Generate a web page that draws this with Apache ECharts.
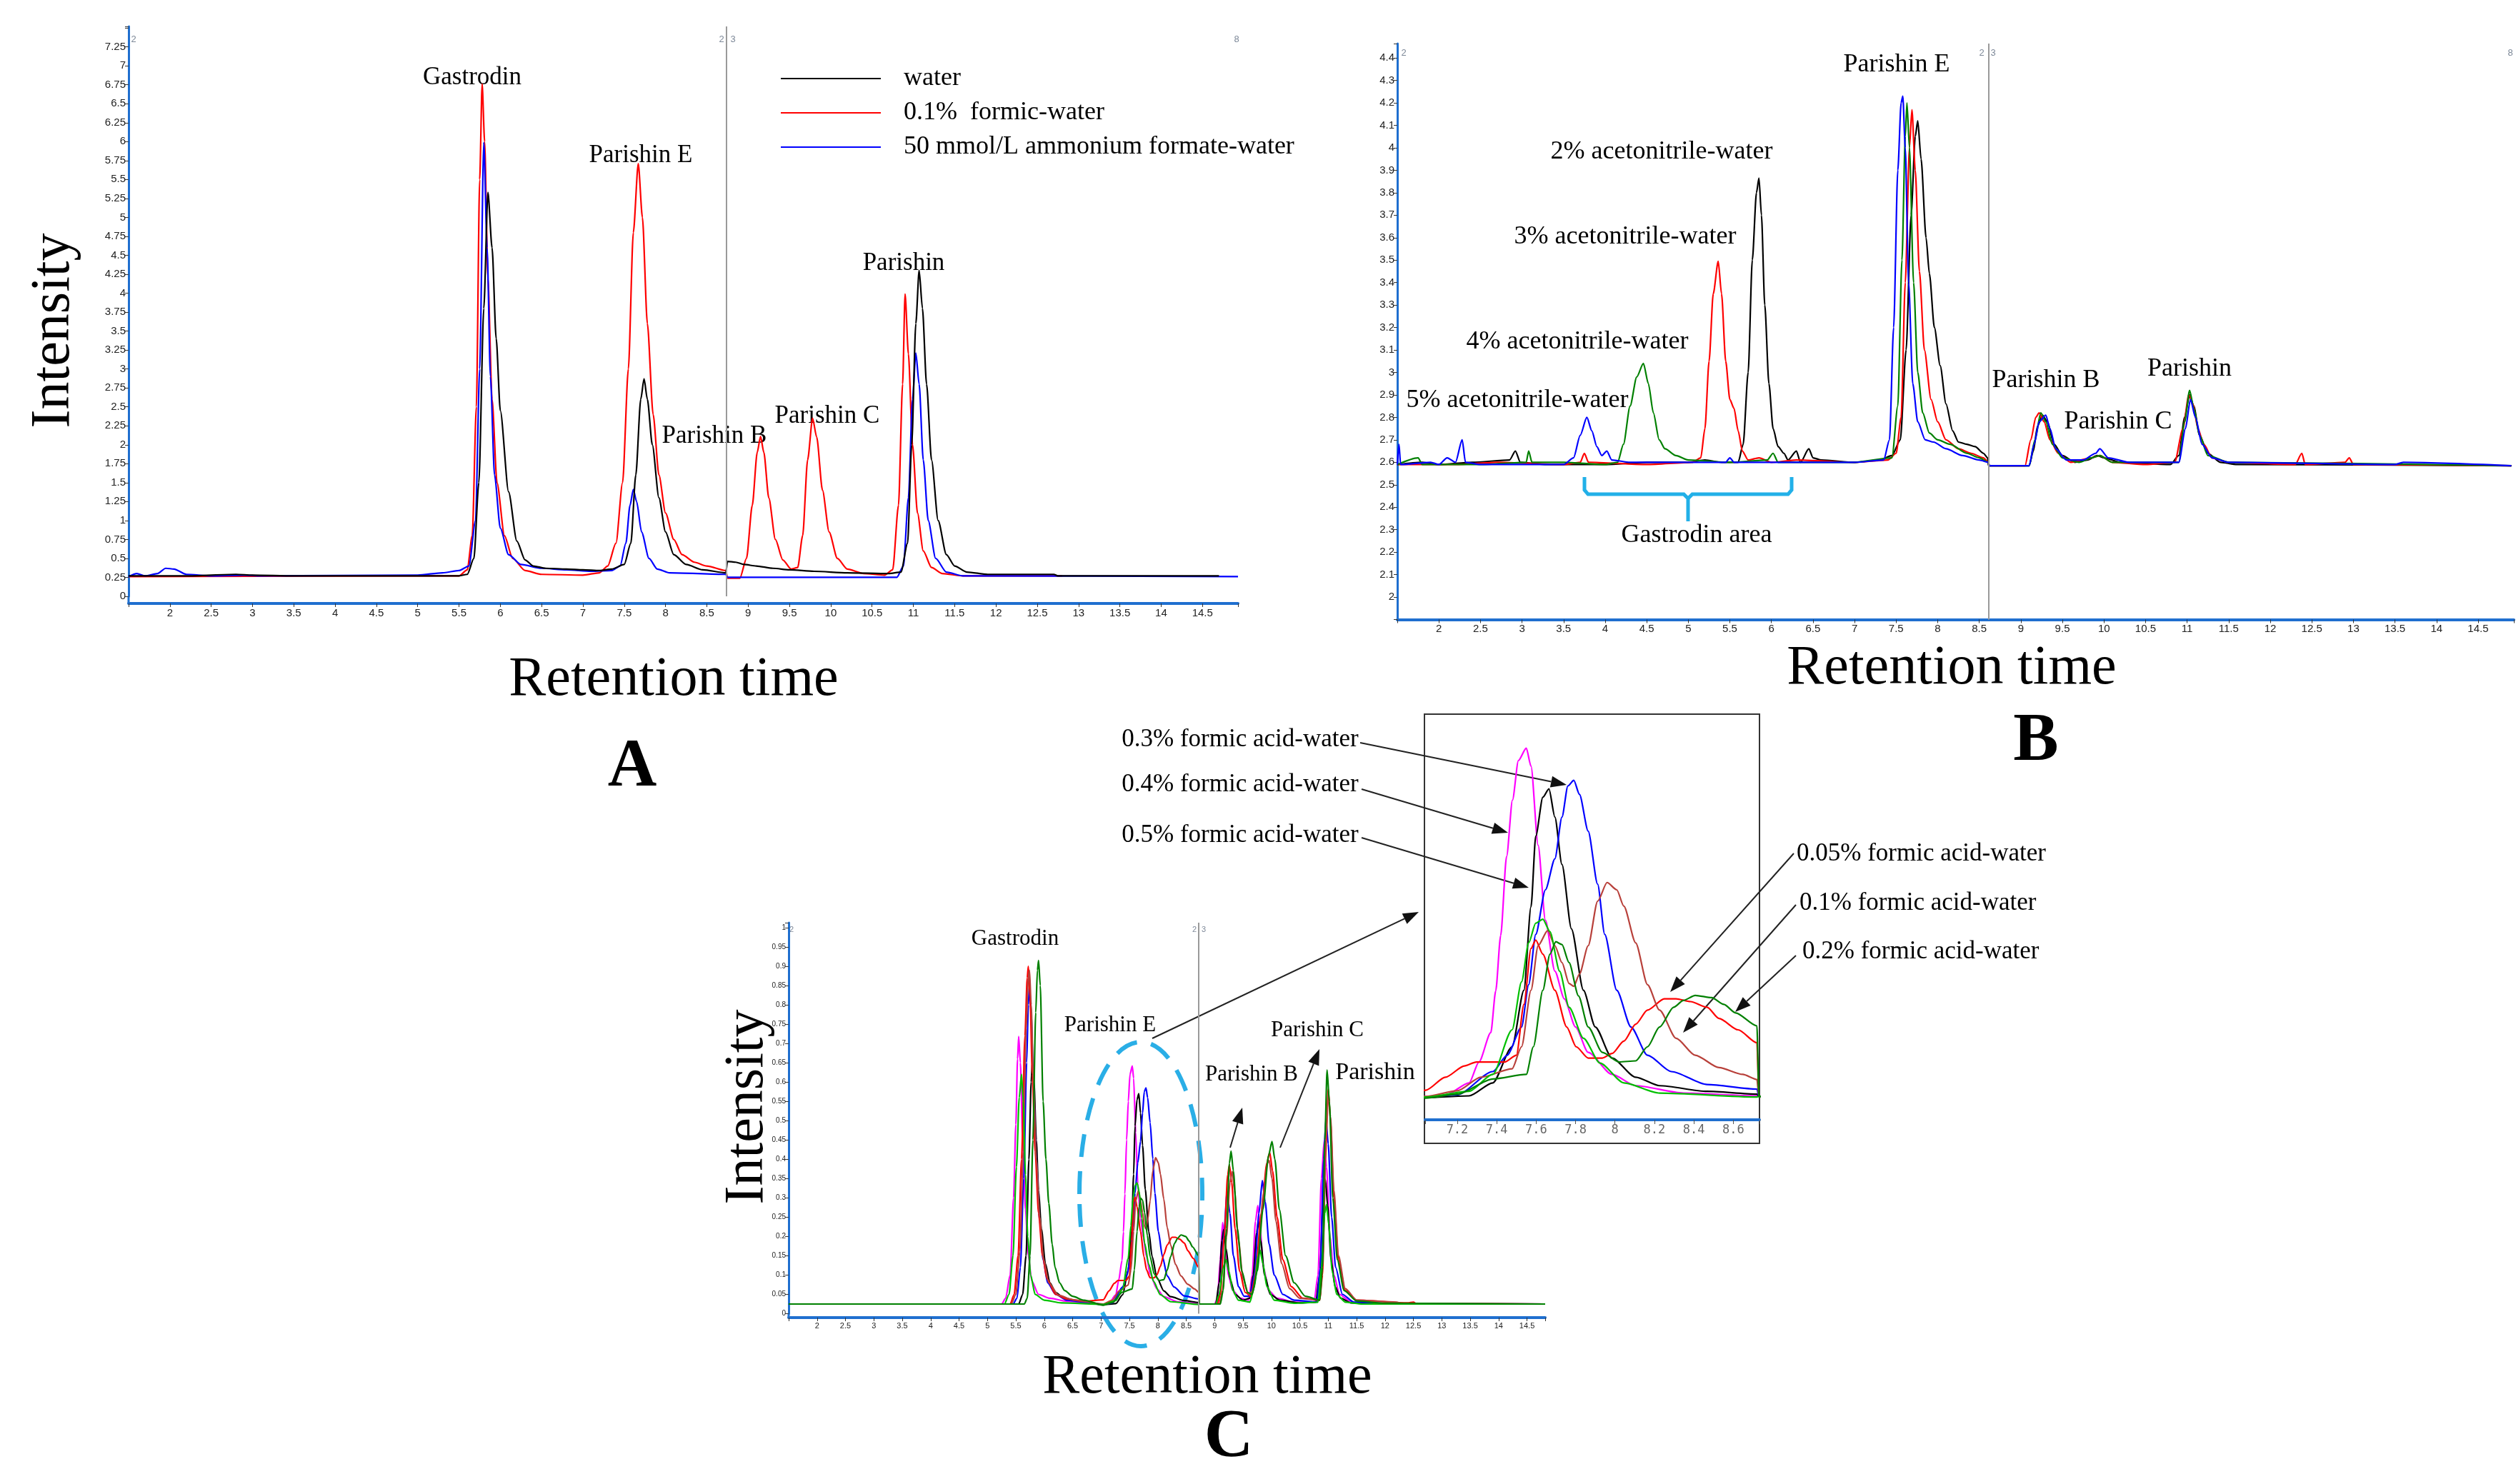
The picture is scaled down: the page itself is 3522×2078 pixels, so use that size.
<!DOCTYPE html>
<html>
<head>
<meta charset="utf-8">
<title>Chromatograms A B C</title>
<script src="https://cdn.jsdelivr.net/npm/echarts@6.0.0/dist/echarts.min.js"></script>
<style>
html,body{margin:0;padding:0;background:#fff;}
#main{width:3522px;height:2078px;}
</style>
</head>
<body>
<div id="main"></div>
<script>
// ---- panel A : mobile phase water / formic / ammonium formate ----
var aNames = ['water', '0.1%  formic-water', '50 mmol/L ammonium formate-water'];
var aWater = [[1.5,0.27],[2.2,0.27],[2.8,0.29],[3.0,0.28],[3.5,0.27],[5.5,0.27],[5.6,0.29],[5.68,0.5],[5.74,1.5],[5.8,3.8],[5.85,5.33],[5.9,4.6],[5.95,3.4],[6.0,2.45],[6.1,1.38],[6.2,0.73],[6.3,0.48],[6.4,0.4],[6.55,0.37],[6.8,0.36],[7.0,0.35],[7.2,0.34],[7.35,0.36],[7.5,0.42],[7.58,0.7],[7.64,1.6],[7.7,2.6],[7.74,2.87],[7.78,2.6],[7.84,2.0],[7.92,1.3],[8.0,0.85],[8.1,0.55],[8.25,0.42],[8.45,0.35],[8.73,0.31],[8.75,0.46],[8.85,0.45],[8.95,0.42],[9.1,0.4],[9.3,0.37],[9.5,0.35],[9.8,0.33],[10.2,0.31],[10.7,0.3],[10.85,0.32],[10.93,0.7],[10.98,2.0],[11.03,3.6],[11.07,4.3],[11.11,3.8],[11.16,2.8],[11.22,1.8],[11.3,1.0],[11.4,0.55],[11.5,0.4],[11.65,0.32],[11.9,0.29],[12.7,0.29],[12.75,0.27],[14.7,0.27]];
var aFormic = [[1.5,0.26],[5.5,0.27],[5.6,0.35],[5.66,0.8],[5.71,2.5],[5.75,5.5],[5.78,6.76],[5.81,6.0],[5.85,4.2],[5.9,2.6],[5.96,1.5],[6.05,0.8],[6.15,0.5],[6.3,0.34],[6.5,0.29],[7.0,0.28],[7.2,0.31],[7.3,0.4],[7.4,0.7],[7.48,1.5],[7.55,3.0],[7.61,4.8],[7.67,5.71],[7.72,5.0],[7.78,3.6],[7.85,2.4],[7.92,1.6],[8.0,1.1],[8.1,0.75],[8.2,0.55],[8.35,0.45],[8.5,0.4],[8.73,0.34],[8.75,0.24],[8.9,0.24],[8.98,0.5],[9.05,1.2],[9.11,1.9],[9.15,2.11],[9.19,1.9],[9.25,1.3],[9.33,0.75],[9.42,0.48],[9.52,0.36],[9.6,0.38],[9.66,0.8],[9.72,1.8],[9.78,2.35],[9.83,2.1],[9.9,1.4],[9.98,0.85],[10.08,0.5],[10.2,0.36],[10.4,0.3],[10.65,0.28],[10.75,0.35],[10.82,1.2],[10.87,2.8],[10.9,3.99],[10.94,3.2],[10.99,2.0],[11.05,1.1],[11.12,0.6],[11.22,0.38],[11.35,0.3],[11.6,0.27],[12.8,0.27]];
var aAmmonium = [[1.5,0.26],[1.6,0.3],[1.7,0.27],[1.85,0.3],[1.95,0.37],[2.05,0.36],[2.2,0.29],[2.5,0.27],[2.9,0.28],[3.1,0.27],[5.0,0.28],[5.3,0.31],[5.5,0.34],[5.62,0.4],[5.7,1.0],[5.75,3.0],[5.8,5.99],[5.84,4.6],[5.88,2.9],[5.93,1.6],[6.0,0.9],[6.1,0.55],[6.25,0.42],[6.5,0.37],[6.8,0.35],[7.1,0.33],[7.35,0.34],[7.45,0.4],[7.52,0.7],[7.57,1.2],[7.61,1.41],[7.65,1.25],[7.71,0.85],[7.8,0.5],[7.9,0.36],[8.05,0.31],[8.73,0.29],[8.75,0.25],[10.8,0.25],[10.88,0.4],[10.94,1.3],[10.99,2.6],[11.03,3.21],[11.07,2.8],[11.12,1.8],[11.18,1.0],[11.27,0.5],[11.4,0.32],[11.6,0.27],[14.93,0.26]];

// ---- panel B : acetonitrile percentage ----
var bAcn2 = [[1.5,2.59],[1.8,2.6],[2.0,2.59],[2.4,2.6],[2.85,2.61],[2.92,2.65],[2.98,2.6],[3.3,2.59],[4.0,2.59],[4.5,2.6],[5.0,2.6],[5.2,2.61],[5.4,2.6],[5.6,2.6],[5.66,2.68],[5.72,3.0],[5.77,3.5],[5.82,3.8],[5.85,3.865],[5.88,3.7],[5.92,3.3],[5.97,2.95],[6.02,2.75],[6.08,2.67],[6.15,2.64],[6.2,2.61],[6.3,2.65],[6.35,2.6],[6.45,2.66],[6.5,2.62],[6.6,2.61],[7.0,2.6],[7.3,2.61],[7.45,2.63],[7.55,2.7],[7.62,3.1],[7.68,3.7],[7.73,4.05],[7.76,4.12],[7.8,3.95],[7.86,3.6],[7.9,3.44],[7.96,3.2],[8.03,3.03],[8.1,2.86],[8.18,2.74],[8.25,2.69],[8.35,2.68],[8.45,2.67],[8.55,2.64],[8.6,2.62],[8.61,2.585],[9.1,2.585],[9.15,2.65],[9.2,2.76],[9.26,2.81],[9.32,2.78],[9.4,2.68],[9.5,2.63],[9.65,2.6],[9.8,2.61],[9.92,2.63],[10.0,2.62],[10.2,2.6],[10.8,2.59],[10.9,2.63],[10.97,2.8],[11.03,2.9],[11.08,2.85],[11.15,2.72],[11.25,2.64],[11.4,2.6],[11.6,2.59],[14.9,2.585]];
var bAcn3 = [[1.5,2.59],[2.2,2.59],[2.7,2.6],[3.5,2.59],[3.7,2.6],[3.75,2.64],[3.8,2.6],[4.5,2.59],[5.05,2.6],[5.15,2.62],[5.2,2.75],[5.25,3.05],[5.3,3.35],[5.36,3.495],[5.4,3.35],[5.45,3.05],[5.5,2.88],[5.55,2.84],[5.6,2.74],[5.65,2.65],[5.72,2.61],[5.85,2.62],[6.0,2.6],[6.3,2.61],[7.0,2.6],[7.4,2.61],[7.5,2.64],[7.56,2.8],[7.61,3.4],[7.66,4.0],[7.69,4.17],[7.73,3.9],[7.78,3.45],[7.84,3.1],[7.92,2.88],[8.0,2.78],[8.1,2.7],[8.25,2.66],[8.4,2.64],[8.55,2.62],[8.61,2.6],[8.62,2.585],[9.05,2.585],[9.12,2.7],[9.18,2.8],[9.22,2.82],[9.28,2.78],[9.35,2.7],[9.45,2.64],[9.6,2.6],[9.85,2.62],[9.95,2.63],[10.1,2.6],[10.5,2.59],[10.85,2.6],[10.95,2.75],[11.02,2.9],[11.07,2.86],[11.13,2.75],[11.2,2.68],[11.3,2.62],[11.5,2.6],[12.3,2.59],[12.38,2.64],[12.42,2.59],[12.9,2.6],[12.95,2.62],[13.0,2.59],[14.9,2.585]];
var bAcn4 = [[1.5,2.59],[1.75,2.62],[1.8,2.59],[2.5,2.59],[3.05,2.6],[3.08,2.65],[3.12,2.6],[3.5,2.6],[4.0,2.59],[4.15,2.6],[4.22,2.68],[4.3,2.85],[4.38,2.98],[4.46,3.04],[4.52,2.95],[4.58,2.82],[4.65,2.7],[4.72,2.66],[4.85,2.63],[5.0,2.61],[5.5,2.6],[5.95,2.61],[6.02,2.64],[6.08,2.6],[6.5,2.6],[7.0,2.6],[7.45,2.62],[7.52,2.85],[7.57,3.5],[7.61,4.05],[7.63,4.2],[7.66,4.0],[7.71,3.4],[7.76,3.0],[7.82,2.82],[7.9,2.73],[8.0,2.7],[8.15,2.68],[8.35,2.64],[8.5,2.62],[8.61,2.6],[8.62,2.585],[9.1,2.585],[9.17,2.7],[9.24,2.82],[9.3,2.78],[9.38,2.68],[9.5,2.62],[9.7,2.6],[9.85,2.62],[9.95,2.63],[10.1,2.6],[10.9,2.6],[10.97,2.78],[11.03,2.92],[11.08,2.84],[11.15,2.72],[11.25,2.63],[11.5,2.6],[14.9,2.585]];
var bAcn5 = [[1.5,2.59],[1.52,2.68],[1.54,2.59],[1.9,2.6],[2.0,2.59],[2.1,2.62],[2.2,2.6],[2.28,2.7],[2.32,2.6],[2.5,2.59],[3.0,2.59],[3.5,2.59],[3.62,2.62],[3.7,2.72],[3.78,2.8],[3.84,2.74],[3.9,2.67],[3.96,2.63],[4.02,2.65],[4.08,2.61],[4.3,2.6],[4.7,2.6],[5.0,2.6],[5.45,2.6],[5.5,2.62],[5.55,2.6],[6.0,2.6],[7.0,2.6],[7.35,2.61],[7.42,2.7],[7.47,3.2],[7.52,3.9],[7.56,4.2],[7.58,4.23],[7.61,4.0],[7.65,3.4],[7.7,2.95],[7.76,2.78],[7.85,2.7],[7.95,2.69],[8.1,2.66],[8.3,2.63],[8.5,2.61],[8.61,2.6],[8.62,2.585],[9.1,2.585],[9.16,2.68],[9.22,2.78],[9.3,2.81],[9.35,2.75],[9.42,2.66],[9.55,2.61],[9.75,2.61],[9.9,2.64],[9.95,2.66],[10.05,2.62],[10.3,2.6],[10.9,2.6],[10.98,2.75],[11.04,2.88],[11.1,2.8],[11.18,2.68],[11.3,2.62],[11.5,2.6],[13.5,2.59],[13.6,2.6],[14.9,2.585]];

// ---- panel C : formic acid percentage (also used for the zoomed inset) ----
var cMagenta = [[1.5,0.025],[5.25,0.025],[5.32,0.04],[5.4,0.1],[5.46,0.3],[5.5,0.49],[5.53,0.66],[5.55,0.718],[5.58,0.65],[5.62,0.45],[5.67,0.27],[5.72,0.15],[5.78,0.085],[5.9,0.05],[6.1,0.04],[6.4,0.032],[7.04,0.025],[7.14,0.027],[7.26,0.049],[7.31,0.086],[7.37,0.138],[7.395,0.212],[7.42,0.31],[7.45,0.45],[7.48,0.55],[7.51,0.62],[7.55,0.642],[7.574,0.61],[7.61,0.47],[7.647,0.337],[7.695,0.247],[7.743,0.198],[7.8,0.148],[7.864,0.103],[7.985,0.064],[8.105,0.044],[8.347,0.031],[8.72,0.026],[8.73,0.025],[9.0,0.025],[9.05,0.04],[9.1,0.14],[9.14,0.236],[9.18,0.18],[9.24,0.1],[9.32,0.06],[9.45,0.04],[9.6,0.035],[9.66,0.1],[9.72,0.24],[9.76,0.28],[9.8,0.22],[9.86,0.12],[9.95,0.06],[10.1,0.04],[10.4,0.03],[10.75,0.03],[10.82,0.1],[10.88,0.35],[10.93,0.449],[10.97,0.38],[11.03,0.2],[11.1,0.1],[11.2,0.05],[11.4,0.03],[12.0,0.026],[14.82,0.025]];
var cBlack = [[1.5,0.025],[5.55,0.025],[5.62,0.05],[5.68,0.15],[5.73,0.4],[5.77,0.6],[5.79,0.65],[5.82,0.6],[5.86,0.45],[5.9,0.32],[5.95,0.22],[6.02,0.13],[6.1,0.08],[6.2,0.055],[6.35,0.04],[6.6,0.033],[7.04,0.023],[7.26,0.026],[7.38,0.049],[7.478,0.113],[7.538,0.213],[7.574,0.361],[7.598,0.486],[7.634,0.555],[7.665,0.57],[7.695,0.52],[7.731,0.436],[7.779,0.322],[7.84,0.213],[7.9,0.148],[7.985,0.093],[8.105,0.059],[8.226,0.044],[8.467,0.034],[8.72,0.029],[8.73,0.025],[9.02,0.025],[9.08,0.08],[9.13,0.19],[9.16,0.218],[9.2,0.17],[9.27,0.09],[9.36,0.05],[9.5,0.035],[9.62,0.04],[9.68,0.1],[9.74,0.21],[9.77,0.24],[9.81,0.19],[9.88,0.1],[9.98,0.05],[10.15,0.035],[10.5,0.028],[10.78,0.03],[10.85,0.1],[10.91,0.29],[10.95,0.348],[10.99,0.28],[11.05,0.14],[11.12,0.07],[11.22,0.04],[11.4,0.028],[12.0,0.025],[14.82,0.025]];
var cBlue = [[1.5,0.025],[5.45,0.025],[5.52,0.04],[5.58,0.12],[5.64,0.35],[5.69,0.65],[5.72,0.8],[5.74,0.85],[5.77,0.78],[5.81,0.6],[5.86,0.4],[5.92,0.24],[5.98,0.14],[6.06,0.08],[6.2,0.05],[6.4,0.035],[6.7,0.03],[7.04,0.024],[7.2,0.028],[7.38,0.069],[7.453,0.098],[7.526,0.148],[7.562,0.223],[7.598,0.312],[7.647,0.391],[7.695,0.446],[7.731,0.52],[7.761,0.575],[7.791,0.585],[7.82,0.56],[7.864,0.495],[7.912,0.401],[7.948,0.312],[8.009,0.213],[8.081,0.148],[8.165,0.098],[8.286,0.069],[8.467,0.046],[8.72,0.038],[8.73,0.025],[9.05,0.025],[9.1,0.06],[9.16,0.2],[9.22,0.316],[9.27,0.26],[9.33,0.15],[9.42,0.07],[9.52,0.045],[9.62,0.045],[9.7,0.1],[9.78,0.26],[9.84,0.345],[9.89,0.29],[9.96,0.18],[10.05,0.1],[10.2,0.05],[10.4,0.035],[10.8,0.03],[10.86,0.12],[10.92,0.4],[10.96,0.505],[11.0,0.44],[11.06,0.25],[11.13,0.12],[11.25,0.05],[11.45,0.03],[12.2,0.026],[14.82,0.025]];
var cRed = [[1.5,0.025],[5.4,0.025],[5.47,0.05],[5.54,0.15],[5.6,0.4],[5.66,0.72],[5.7,0.87],[5.72,0.9],[5.75,0.82],[5.79,0.62],[5.84,0.42],[5.9,0.26],[5.97,0.15],[6.05,0.09],[6.2,0.05],[6.4,0.038],[6.7,0.032],[7.04,0.036],[7.14,0.059],[7.236,0.079],[7.297,0.086],[7.44,0.086],[7.5,0.098],[7.538,0.188],[7.574,0.287],[7.598,0.302],[7.634,0.277],[7.695,0.213],[7.755,0.148],[7.803,0.113],[7.864,0.093],[7.936,0.093],[7.985,0.101],[8.045,0.123],[8.105,0.153],[8.165,0.178],[8.25,0.198],[8.31,0.198],[8.383,0.193],[8.467,0.183],[8.528,0.163],[8.624,0.143],[8.72,0.12],[8.73,0.025],[9.05,0.025],[9.1,0.05],[9.17,0.2],[9.23,0.36],[9.26,0.385],[9.3,0.34],[9.36,0.22],[9.44,0.11],[9.54,0.055],[9.64,0.045],[9.72,0.1],[9.82,0.26],[9.92,0.39],[9.97,0.418],[10.02,0.37],[10.1,0.25],[10.2,0.14],[10.35,0.07],[10.55,0.04],[10.85,0.035],[10.9,0.1],[10.95,0.4],[11.0,0.582],[11.04,0.5],[11.1,0.3],[11.18,0.14],[11.3,0.06],[11.5,0.035],[12.4,0.028],[12.5,0.03],[12.55,0.026],[14.82,0.025]];
var cBrown = [[1.5,0.025],[5.42,0.025],[5.5,0.05],[5.57,0.16],[5.63,0.42],[5.68,0.74],[5.72,0.87],[5.74,0.89],[5.77,0.8],[5.81,0.6],[5.86,0.4],[5.92,0.25],[5.99,0.14],[6.08,0.08],[6.25,0.048],[6.5,0.036],[7.04,0.025],[7.2,0.035],[7.32,0.059],[7.478,0.074],[7.526,0.113],[7.574,0.213],[7.61,0.292],[7.659,0.319],[7.695,0.292],[7.731,0.262],[7.767,0.225],[7.791,0.22],[7.82,0.242],[7.864,0.292],[7.912,0.371],[7.96,0.404],[8.009,0.391],[8.045,0.362],[8.105,0.297],[8.165,0.223],[8.226,0.178],[8.31,0.128],[8.407,0.098],[8.528,0.076],[8.648,0.064],[8.72,0.055],[8.73,0.025],[9.08,0.025],[9.14,0.06],[9.21,0.2],[9.27,0.34],[9.31,0.369],[9.35,0.32],[9.42,0.19],[9.5,0.09],[9.6,0.05],[9.68,0.06],[9.76,0.15],[9.86,0.31],[9.93,0.39],[9.96,0.397],[10.01,0.35],[10.08,0.24],[10.18,0.13],[10.32,0.065],[10.5,0.04],[10.85,0.035],[10.91,0.15],[10.96,0.45],[11.0,0.573],[11.04,0.51],[11.1,0.32],[11.18,0.15],[11.3,0.065],[11.5,0.035],[12.2,0.03],[12.3,0.026],[14.82,0.025]];
var cLightGreen = [[1.5,0.025],[5.3,0.025],[5.38,0.05],[5.45,0.15],[5.51,0.38],[5.56,0.56],[5.6,0.62],[5.63,0.55],[5.67,0.36],[5.71,0.2],[5.76,0.1],[5.84,0.05],[6.0,0.035],[6.3,0.028],[7.04,0.024],[7.26,0.034],[7.38,0.064],[7.478,0.143],[7.526,0.228],[7.562,0.297],[7.598,0.332],[7.634,0.339],[7.67,0.317],[7.719,0.247],[7.767,0.183],[7.84,0.128],[7.924,0.084],[8.045,0.049],[8.226,0.031],[8.72,0.024],[8.73,0.025],[9.02,0.025],[9.08,0.05],[9.15,0.12],[9.2,0.14],[9.25,0.11],[9.32,0.06],[9.42,0.035],[9.62,0.03],[9.7,0.07],[9.77,0.15],[9.8,0.165],[9.85,0.13],[9.92,0.07],[10.05,0.035],[10.4,0.027],[10.82,0.03],[10.88,0.12],[10.94,0.26],[10.97,0.283],[11.01,0.23],[11.07,0.11],[11.15,0.05],[11.3,0.03],[11.6,0.025],[14.82,0.025]];
var cDarkGreen = [[1.5,0.025],[5.65,0.025],[5.7,0.04],[5.75,0.15],[5.8,0.45],[5.85,0.78],[5.88,0.89],[5.9,0.915],[5.93,0.85],[5.98,0.55],[6.03,0.4],[6.08,0.286],[6.14,0.18],[6.19,0.12],[6.27,0.08],[6.36,0.06],[6.5,0.045],[6.7,0.035],[7.04,0.022],[7.2,0.029],[7.38,0.056],[7.55,0.064],[7.586,0.113],[7.634,0.213],[7.67,0.277],[7.7,0.299],[7.731,0.294],[7.767,0.262],[7.815,0.203],[7.864,0.148],[7.936,0.103],[8.021,0.086],[8.105,0.088],[8.165,0.113],[8.226,0.148],[8.298,0.183],[8.347,0.195],[8.407,0.204],[8.49,0.2],[8.552,0.188],[8.612,0.173],[8.72,0.15],[8.73,0.025],[9.1,0.025],[9.15,0.06],[9.21,0.22],[9.26,0.39],[9.29,0.421],[9.33,0.37],[9.4,0.22],[9.48,0.11],[9.58,0.055],[9.66,0.05],[9.75,0.11],[9.85,0.27],[9.95,0.41],[10.01,0.446],[10.06,0.4],[10.14,0.27],[10.25,0.15],[10.4,0.08],[10.6,0.045],[10.85,0.035],[10.9,0.12],[10.94,0.45],[10.98,0.631],[11.02,0.55],[11.08,0.3],[11.16,0.14],[11.28,0.06],[11.5,0.033],[12.0,0.027],[14.82,0.025]];

// where the software split the run (grey vertical line), per panel
var splitA = 8.74, splitB = 8.61, splitC = 8.72;

var SERIF = '"Liberation Serif", "Times New Roman", serif';
var AXIS_BLUE = '#1f6fcf';

function fmt(step, lo, hi) {
    return function (v) {
        if (v < lo - 1e-9 || v > hi + 1e-9) return '';
        var k = v / step;
        if (Math.abs(k - Math.round(k)) > 1e-6) return '';
        return String(+v.toFixed(2));
    };
}

function xAx(grid, min, max, fs, offset) {
    return {
        type: 'value', gridIndex: grid, min: min, max: max, interval: 0.5, offset: offset,
        axisLine: {show: true, onZero: false, lineStyle: {color: AXIS_BLUE, width: 4}},
        axisTick: {show: true, length: 5, lineStyle: {color: '#333', width: 1}},
        axisLabel: {fontSize: fs, color: '#222', fontFamily: 'Liberation Sans', margin: 6, formatter: fmt(0.5, 2, 14.5)},
        splitLine: {show: false}
    };
}

function yAx(grid, min, max, step, lo, hi, fs) {
    return {
        type: 'value', gridIndex: grid, min: min, max: max, interval: step,
        axisLine: {show: true, lineStyle: {color: AXIS_BLUE, width: 3}},
        axisTick: {show: true, length: 5, lineStyle: {color: '#333', width: 1}},
        axisLabel: {fontSize: fs, color: '#222', fontFamily: 'Liberation Sans', margin: 4, formatter: fmt(step, lo, hi)},
        splitLine: {show: false}
    };
}

function line(name, data, color, grid, mark) {
    var s = {
        name: name, type: 'line', data: data, xAxisIndex: grid, yAxisIndex: grid,
        symbol: 'none', smooth: 0.25, smoothMonotone: 'x',
        lineStyle: {color: color, width: 2.2}, itemStyle: {color: color}
    };
    if (mark !== undefined) {
        s.markLine = {silent: true, symbol: 'none', label: {show: false},
            lineStyle: {color: '#9a9a9a', width: 2, type: 'solid'}, data: [{xAxis: mark}]};
    }
    return s;
}

function txt(s, x, y, size, opt) {
    opt = opt || {};
    return {
        type: 'text', x: x, y: y, rotation: opt.rot || 0, silent: true,
        style: {
            text: s, fill: opt.color || '#000',
            font: (opt.bold ? 'bold ' : '') + size + 'px ' + (opt.family || SERIF),
            align: opt.align || 'center', verticalAlign: 'middle',
            textAlign: opt.align || 'center', textVerticalAlign: 'middle'
        }
    };
}

function arrow(x1, y1, x2, y2) {
    var a = Math.atan2(y2 - y1, x2 - x1), L = 22, W = 8;
    var bx = x2 - L * Math.cos(a), by = y2 - L * Math.sin(a);
    return [
        {type: 'line', silent: true, shape: {x1: x1, y1: y1, x2: bx, y2: by}, style: {stroke: '#222', lineWidth: 2}},
        {type: 'polygon', silent: true, shape: {points: [[x2, y2],
            [bx + W * Math.sin(a), by - W * Math.cos(a)],
            [bx - W * Math.sin(a), by + W * Math.cos(a)]]}, style: {fill: '#111'}}
    ];
}

var small = {color: '#7d8898', family: 'Liberation Sans'};
var graphics = [
    // panel A
    txt('Intensity', 76, 463, 78, {rot: Math.PI / 2}),
    txt('Retention time', 943, 953, 78),
    txt('A', 885, 1075, 95, {bold: true}),
    txt('Gastrodin', 661, 109, 35),
    txt('Parishin E', 897, 218, 35),
    txt('Parishin B', 1000, 611, 35),
    txt('Parishin C', 1158, 583, 35),
    txt('Parishin', 1265, 369, 35),
    txt('2', 187, 55, 13, small), txt('2', 1010, 55, 13, small), txt('3', 1026, 55, 13, small), txt('8', 1731, 55, 13, small),
    // panel B
    txt('Retention time', 2732, 937, 78),
    txt('B', 2850, 1039, 95, {bold: true}),
    txt('Parishin E', 2655, 91, 36),
    txt('2% acetonitrile-water', 2326, 213, 36),
    txt('3% acetonitrile-water', 2275, 332, 36),
    txt('4% acetonitrile-water', 2208, 479, 36),
    txt('5% acetonitrile-water', 2124, 561, 36),
    txt('Parishin B', 2864, 533, 36),
    txt('Parishin C', 2965, 591, 36),
    txt('Parishin', 3065, 517, 36),
    txt('Gastrodin area', 2375, 750, 36),
    txt('2', 1965, 74, 13, small), txt('2', 2774, 74, 13, small), txt('3', 2790, 74, 13, small), txt('8', 3514, 74, 13, small),
    {type: 'polyline', silent: true, shape: {points: [[2218, 668], [2218, 686], [2223, 692], [2357, 692], [2363, 698], [2363, 730]]},
        style: {stroke: '#22b0e8', lineWidth: 5, fill: null}},
    {type: 'polyline', silent: true, shape: {points: [[2363, 698], [2369, 692], [2503, 692], [2508, 686], [2508, 668]]},
        style: {stroke: '#22b0e8', lineWidth: 5, fill: null}},
    // panel C
    txt('Intensity', 1047, 1550, 78, {rot: Math.PI / 2}),
    txt('Retention time', 1690, 1930, 78),
    txt('C', 1720, 2014, 95, {bold: true}),
    txt('Gastrodin', 1421, 1315, 31),
    txt('Parishin E', 1554, 1436, 31),
    txt('Parishin B', 1752, 1505, 31),
    txt('Parishin C', 1844, 1443, 31),
    txt('Parishin', 1925, 1502, 34),
    txt('0.3% formic acid-water', 1736, 1036, 35),
    txt('0.4% formic acid-water', 1736, 1099, 35),
    txt('0.5% formic acid-water', 1736, 1170, 35),
    txt('0.05% formic acid-water', 2515, 1196, 35, {align: 'left'}),
    txt('0.1% formic acid-water', 2519, 1265, 35, {align: 'left'}),
    txt('0.2% formic acid-water', 2523, 1333, 35, {align: 'left'}),
    txt('2', 1108, 1302, 11, small), txt('2', 1672, 1302, 11, small), txt('3', 1685, 1302, 11, small),
    {type: 'ellipse', silent: true, shape: {cx: 1597, cy: 1672, rx: 86, ry: 213},
        style: {fill: null, stroke: '#2aaee6', lineWidth: 6, lineDash: [32, 20]}},
    {type: 'rect', silent: true, shape: {x: 1994, y: 1000, width: 469, height: 601},
        style: {fill: null, stroke: '#333', lineWidth: 2}},
    // close the small gaps between the y axes and the offset x axes
    {type: 'line', silent: true, shape: {x1: 180, y1: 835, x2: 180, y2: 845}, style: {stroke: AXIS_BLUE, lineWidth: 3}},
    {type: 'line', silent: true, shape: {x1: 1104, y1: 1839, x2: 1104, y2: 1845}, style: {stroke: AXIS_BLUE, lineWidth: 3}}
];
graphics = graphics
    .concat(arrow(1904, 1040, 2193, 1099))
    .concat(arrow(1906, 1105, 2111, 1166))
    .concat(arrow(1906, 1173, 2140, 1243))
    .concat(arrow(1613, 1454, 1986, 1277))
    .concat(arrow(1722, 1607, 1739, 1551))
    .concat(arrow(1792, 1607, 1847, 1469))
    .concat(arrow(2511, 1195, 2338, 1389))
    .concat(arrow(2514, 1267, 2356, 1446))
    .concat(arrow(2514, 1338, 2429, 1417));

var cSets = [
    ['0.4%', cMagenta, '#ff00ff'],
    ['0.5%', cBlack, '#000000'],
    ['0.3%', cBlue, '#0000ff'],
    ['0.05%', cRed, '#ff0000'],
    ['brown', cBrown, '#b8403a'],
    ['0.1%', cLightGreen, '#00c000'],
    ['0.2%', cDarkGreen, '#008000']
];

var series = [
    line(aNames[1], aFormic, '#ff0000', 0),
    line(aNames[2], aAmmonium, '#0000ff', 0),
    line(aNames[0], aWater, '#000000', 0, splitA),
    line('B 2%', bAcn2, '#000000', 1, splitB),
    line('B 3%', bAcn3, '#ff0000', 1),
    line('B 4%', bAcn4, '#008000', 1),
    line('B 5%', bAcn5, '#0000ff', 1)
];
cSets.forEach(function (c, i) {
    series.push(line('C ' + c[0], c[1], c[2], 2, i === 0 ? splitC : undefined));
});
cSets.forEach(function (c) {
    series.push(line('inset ' + c[0], c[1], c[2], 3));
});

var chart = echarts.init(document.getElementById('main'));
chart.setOption({
    animation: false,
    backgroundColor: '#fff',
    legend: {
        data: aNames, orient: 'vertical', left: 1088, top: 87, itemGap: 12,
        icon: 'rect', itemWidth: 140, itemHeight: 2, selectedMode: false,
        textStyle: {fontFamily: SERIF, fontSize: 36, lineHeight: 36, color: '#000', padding: [0, 0, 0, 27]}
    },
    grid: [
        {left: 180, top: 37, width: 1553, height: 798},
        {left: 1956, top: 61, width: 1563, height: 806.5},
        {left: 1104, top: 1292, width: 1059, height: 547.5},
        {left: 1995, top: 1001, width: 468, height: 567}
    ],
    xAxis: [
        xAx(0, 1.5, 14.93, 15, 10),
        xAx(1, 1.5, 14.93, 15, 0),
        xAx(2, 1.5, 14.82, 11, 5.5),
        {
            type: 'value', gridIndex: 3, min: 7.037, max: 8.733, splitNumber: 8,
            axisLine: {show: true, onZero: false, lineStyle: {color: AXIS_BLUE, width: 4}},
            axisTick: {show: true, inside: false, length: 6, lineStyle: {color: '#555'}},
            axisLabel: {fontSize: 17, color: '#666', fontFamily: 'DejaVu Sans Mono', margin: 6, formatter: fmt(0.2, 7.2, 8.6)},
            splitLine: {show: false}
        }
    ],
    yAxis: [
        yAx(0, 0, 7.52, 0.25, 0, 7.25, 15),
        yAx(1, 1.9, 4.464, 0.1, 2, 4.4, 15),
        yAx(2, 0, 1.013, 0.05, 0, 1, 10),
        {type: 'value', gridIndex: 3, min: -0.0164, max: 0.701, show: false}
    ],
    graphic: graphics,
    series: series
});
</script>
</body>
</html>
